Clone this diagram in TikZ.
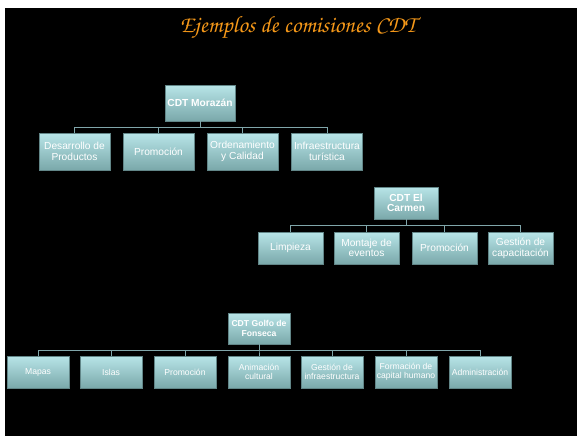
\documentclass[tikz,border=0pt]{standalone}
\usepackage{fontspec}
\setsansfont{Liberation Sans}
\definecolor{boxtop}{RGB}{184,229,232}
\definecolor{boxbot}{RGB}{122,168,170}
\definecolor{linkgray}{RGB}{128,166,170}
\definecolor{titleorange}{RGB}{245,152,25}
\tikzset{
  combox/.style={draw=boxbot!80!black, line width=0.3pt, top color=boxtop, bottom color=boxbot,
    text=white, font=\sffamily\fontsize{10.2}{10.7}\selectfont, align=center,
    inner sep=1pt, minimum width=71pt, minimum height=37pt},
  smallbox/.style={combox, font=\sffamily\fontsize{8.6}{9.2}\selectfont, minimum width=62pt, minimum height=32pt},
  link/.style={draw=linkgray, line width=0.7pt}
}
\begin{document}
\begin{tikzpicture}[x=1pt,y=-1pt]
        \useasboundingbox (0,0) rectangle (578,436);
        \fill[white] (0,0) rectangle (578,436);
        \fill[black] (5,8) rectangle (577,436);

        % title
        \node[text=titleorange, font=\fontencoding{T1}\fontfamily{pzc}\fontseries{mb}\fontshape{it}\fontsize{23.5}{26}\selectfont] (title) at (298,28) {Ejemplos de comisiones CDT};

        % CDT Morazan
        \node[combox, minimum width=70pt, minimum height=36pt, font=\sffamily\bfseries\fontsize{10.2}{10.7}\selectfont] (mor) at (200,103) {CDT Morazán};
        \node[combox] (mor1) at (74.5,151.5) {Desarrollo de\\Productos};
        \node[combox] (mor2) at (158.5,151.5) {Promoción};
        \node[combox] (mor3) at (242.5,151.5) {Ordenamiento\\y Calidad};
        \node[combox] (mor4) at (327,151.5) {Infraestructura\\turística};
        \coordinate (morbus) at (200,127);
        \foreach \c in {mor1,mor2,mor3,mor4}
          \draw[link] (mor.south) -- (morbus) -| (\c.north);

        % CDT El Carmen
        \node[combox, minimum width=64pt, minimum height=32pt, font=\sffamily\bfseries\fontsize{10.2}{10.7}\selectfont] (car) at (406,203) {CDT El\\Carmen};
        \node[combox, minimum width=65pt, minimum height=32pt] (car1) at (290.5,248) {Limpieza};
        \node[combox, minimum width=65pt, minimum height=32pt] (car2) at (366.5,248) {Montaje de\\eventos};
        \node[combox, minimum width=65pt, minimum height=32pt] (car3) at (444.5,248) {Promoción};
        \node[combox, minimum width=65pt, minimum height=32pt] (car4) at (520.5,248) {Gestión de\\capacitación};
        \coordinate (carbus) at (406,225);
        \foreach \c in {car1,car2,car3,car4}
          \draw[link] (car.south) -- (carbus) -| (\c.north);

        % CDT Golfo de Fonseca
        \node[smallbox, minimum height=31pt, font=\sffamily\bfseries\fontsize{8.6}{9.2}\selectfont] (gol) at (259,328.5) {CDT Golfo de\\Fonseca};
        \node[smallbox] (gol1) at (38,372) {Mapas};
        \node[smallbox] (gol2) at (111,372) {Islas};
        \node[smallbox] (gol3) at (185,372) {Promoción};
        \node[smallbox] (gol4) at (259,372) {Animación\\cultural};
        \node[smallbox] (gol5) at (332,372) {Gestión de\\infraestructura};
        \node[smallbox] (gol6) at (406,372) {Formación de\\capital humano};
        \node[smallbox] (gol7) at (480,372) {Administración};
        \coordinate (golbus) at (259,350);
        \foreach \c in {gol1,gol2,gol3,gol4,gol5,gol6,gol7}
          \draw[link] (gol.south) -- (golbus) -| (\c.north);

\end{tikzpicture}
\end{document}
